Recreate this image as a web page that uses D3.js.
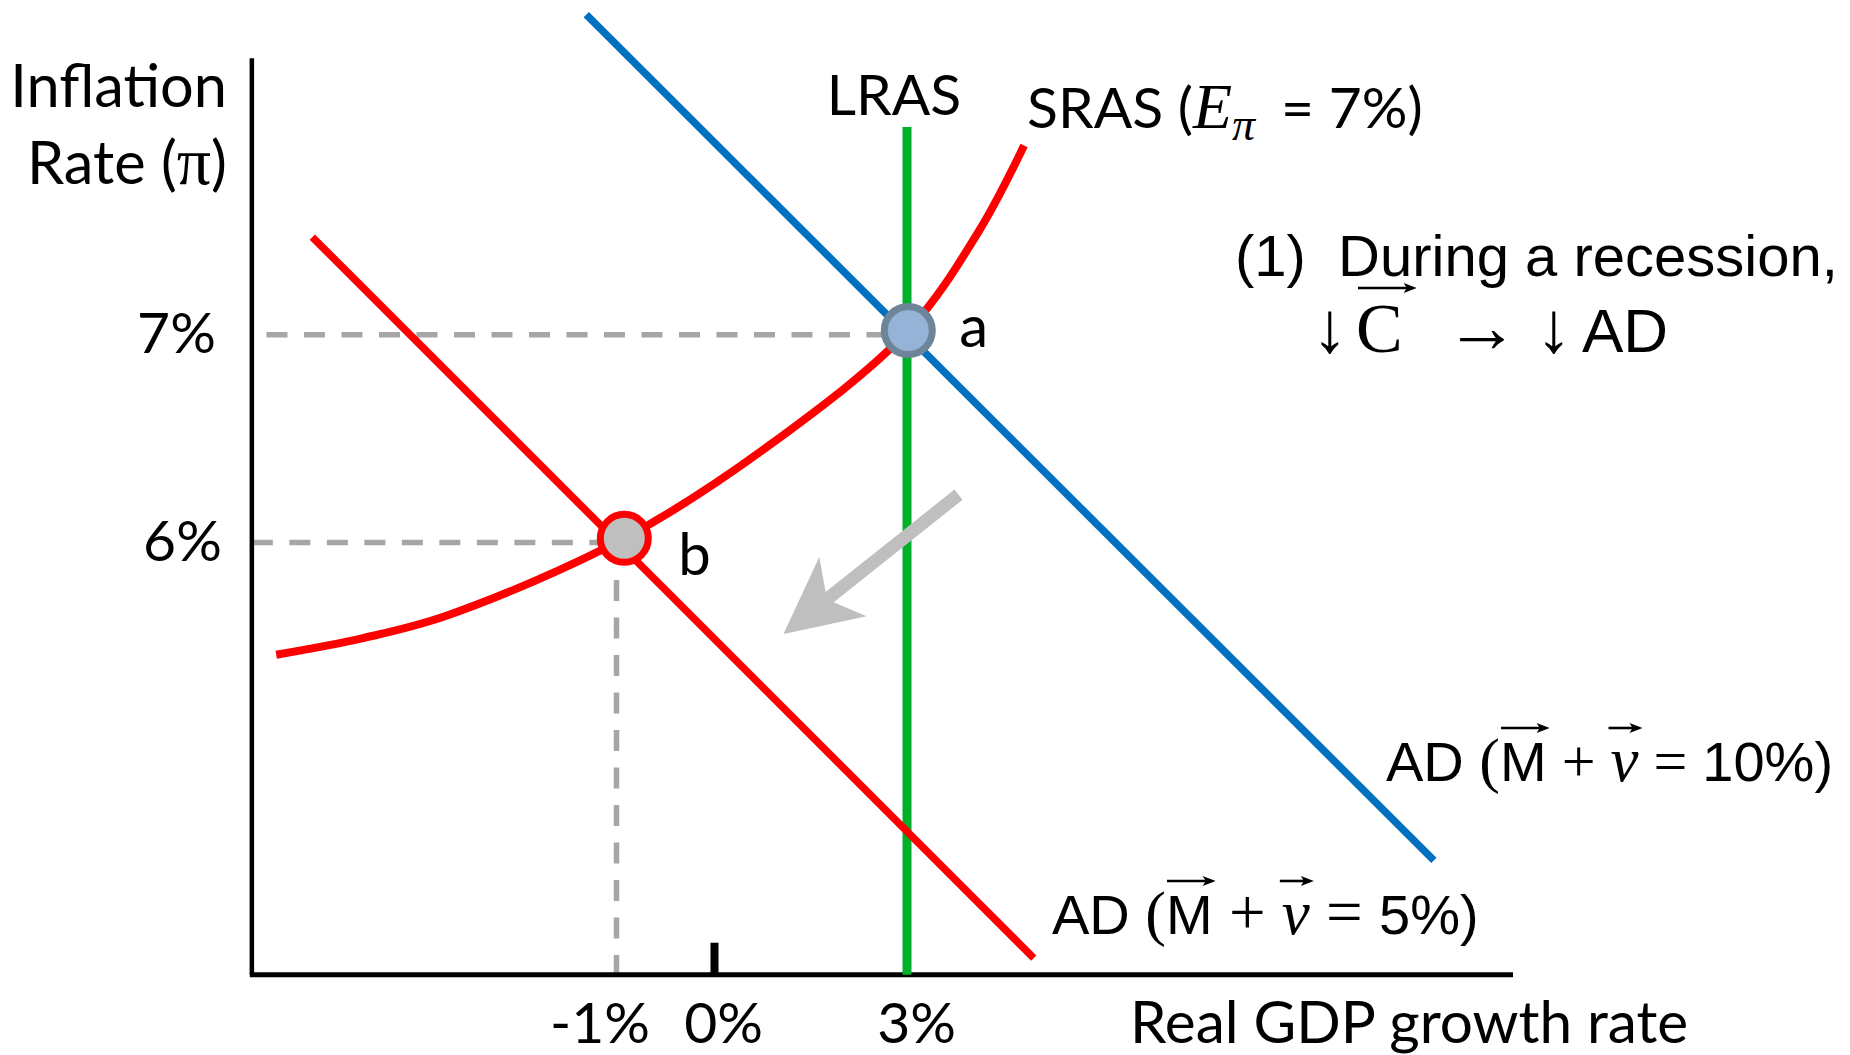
<!DOCTYPE html>
<html><head><meta charset="utf-8">
<script src="https://cdn.jsdelivr.net/npm/d3@7"></script>
<style>
html,body{margin:0;padding:0;background:#fff;}
svg{display:block;}
text{white-space:pre;}
</style></head><body>
<svg id="chart" width="1850" height="1055"></svg>
<script>
// ---------------- data ----------------
const xAnchors = [-1, 0, 3];            // growth values anchoring the schematic x scale
const yAnchors = [6, 7];                // inflation values anchoring the y scale
const xTickValues = [-1, 0, 3];
const xTickLabels = ["-1%", "0%", "3%"];
const yTickValues = [6, 7];
const yTickLabels = ["6%", "7%"];
const axisXExtent = [-4.74, 12.42];
const axisYExtent = [3.92, 8.33];
const lrasX = 3;
const lrasTop = 8.0;
const adHighX = [-1.31, 11.19];
const adHighY = [8.54, 4.47];
const adLowX = [-4.12, 4.97];
const adLowY = [7.47, 4.00];
const srasX = [-4.49, -3.60, -2.73, -0.92, 0.87, 3.02, 4.12, 4.82];
const srasY = [5.46, 5.54, 5.65, 6.02, 6.47, 7.02, 7.50, 7.91];
const pointNames = ["a", "b"];
const pointX = [3.02, -0.92];
const pointY = [7.02, 6.02];
const guideY = [7, 6];                  // dashed horizontal guides
const guideStartX = [-4.59, -4.74];
const guideEndX = [3.02, -0.92];
const guideVX = -1;                     // dashed vertical guide
const shiftX = [3.80, 1.08];            // gray arrow tail -> tip
const shiftY = [6.23, 5.56];

// ---------------- scales ----------------
const x = d3.scaleLinear().domain(xAnchors).range([616.5, 714, 907]);
const y = d3.scaleLinear().domain(yAnchors).range([542.5, 334.7]);

const svg = d3.select("#chart");
const CAL = "Lato, 'Open Sans', sans-serif";
const ARI = "'Liberation Sans', Arial, sans-serif";
const SER = "'Liberation Serif', 'Times New Roman', serif";
const FS = 58;

// ---------------- guides ----------------
const guides = svg.append("g").attr("stroke", "#a6a6a6").attr("stroke-width", 5.5)
  .attr("stroke-dasharray", "21 16.5").attr("fill", "none");
guideY.forEach((gv, i) => {
  guides.append("line").attr("x1", x(guideStartX[i])).attr("x2", x(guideEndX[i]))
    .attr("y1", y(gv)).attr("y2", y(gv));
});
guides.append("line").attr("x1", x(guideVX)).attr("x2", x(guideVX))
  .attr("y1", y(6)).attr("y2", y(axisYExtent[0]));

// ---------------- axes ----------------
svg.append("line").attr("x1", x(axisXExtent[0]) - 2).attr("x2", x(axisXExtent[1]))
  .attr("y1", y(axisYExtent[0])).attr("y2", y(axisYExtent[0]))
  .attr("stroke", "#000").attr("stroke-width", 5);
svg.append("line").attr("x1", x(axisXExtent[0])).attr("x2", x(axisXExtent[0]))
  .attr("y1", y(axisYExtent[1])).attr("y2", y(axisYExtent[0]))
  .attr("stroke", "#000").attr("stroke-width", 4.5);

const xAxis = d3.axisBottom(x).tickValues(xTickValues)
  .tickFormat((d, i) => xTickLabels[i]).tickSizeInner(-32).tickSizeOuter(0).tickPadding(28);
const gx = svg.append("g").attr("transform", `translate(0,${y(axisYExtent[0])})`).call(xAxis);
gx.select(".domain").remove();
gx.selectAll(".tick line").attr("stroke", "#000").attr("stroke-width", 8)
  .attr("stroke-opacity", d => d === 0 ? 1 : 0);
gx.selectAll(".tick text").attr("font-family", CAL).attr("font-size", 57).attr("fill", "#000")
  .attr("dx", d => d < 0 ? -17 : 9);

const yAxis = d3.axisLeft(y).tickValues(yTickValues)
  .tickFormat((d, i) => yTickLabels[i]).tickSize(0).tickPadding(38);
const gy = svg.append("g").attr("transform", `translate(${x(axisXExtent[0])},0)`).call(yAxis);
gy.select(".domain").remove();
gy.selectAll(".tick text").attr("font-family", CAL).attr("font-size", 57).attr("fill", "#000")
  .attr("dx", d => d === 6 ? 8 : 2);

// ---------------- curves ----------------
const line = d3.line().x(d => x(d[0])).y(d => y(d[1]));
svg.append("path").datum(d3.zip(adHighX, adHighY)).attr("d", line)
  .attr("stroke", "#0070c0").attr("stroke-width", 7.5).attr("fill", "none");
svg.append("path").datum([[lrasX, lrasTop], [lrasX, axisYExtent[0]]]).attr("d", line)
  .attr("stroke", "#00b02a").attr("stroke-width", 9).attr("fill", "none");
svg.append("path").datum(d3.zip(adLowX, adLowY)).attr("d", line)
  .attr("stroke", "#ff0000").attr("stroke-width", 7.5).attr("fill", "none");
svg.append("path").datum(d3.zip(srasX, srasY)).attr("d", line.curve(d3.curveCatmullRom.alpha(0.5)))
  .attr("stroke", "#ff0000").attr("stroke-width", 8).attr("fill", "none");

// ---------------- shift arrow ----------------
(function () {
  const tx = x(shiftX[0]), ty = y(shiftY[0]), hx = x(shiftX[1]), hy = y(shiftY[1]);
  const L = Math.hypot(tx - hx, ty - hy);
  const ax = (tx - hx) / L, ay = (ty - hy) / L, px = -ay, py = ax;
  const P = (a, p) => [hx + ax * a + px * p, hy + ay * a + py * p];
  const pts = [P(0, 0), P(76, 38), P(59, 6.5), P(L, 6.5), P(L, -6.5), P(59, -6.5), P(76, -38)];
  svg.append("path").attr("d", "M" + pts.map(p => p.join(",")).join("L") + "Z").attr("fill", "#bfbfbf");
})();

// ---------------- equilibrium points ----------------
const ptFill = ["#95b3d7", "#bfbfbf"];
const ptStroke = ["#6d8499", "#ff0000"];
pointNames.forEach((n, i) => {
  svg.append("circle").attr("cx", x(pointX[i])).attr("cy", y(pointY[i])).attr("r", 24)
    .attr("fill", ptFill[i]).attr("stroke", ptStroke[i]).attr("stroke-width", 7);
});
svg.append("text").attr("x", x(pointX[0]) + 51).attr("y", y(pointY[0]) + 16)
  .attr("font-family", CAL).attr("font-size", FS).text(pointNames[0]);
svg.append("text").attr("x", x(pointX[1]) + 54).attr("y", y(pointY[1]) + 37)
  .attr("font-family", CAL).attr("font-size", FS).text(pointNames[1]);

// ---------------- labels ----------------
function overArrow(x1, x2, yy) {
  svg.append("line").attr("x1", x1).attr("x2", x2 - 8).attr("y1", yy).attr("y2", yy)
    .attr("stroke", "#000").attr("stroke-width", 2.6);
  svg.append("path").attr("d", `M${x2},${yy}L${x2 - 13},${yy - 5}L${x2 - 10},${yy}L${x2 - 13},${yy + 5}Z`)
    .attr("fill", "#000");
}

// axis titles
svg.append("text").attr("x", 227).attr("y", 107).attr("text-anchor", "end")
  .attr("font-family", CAL).attr("font-size", 59.5).text("Inflation");
const rt = svg.append("text").attr("x", 227).attr("y", 184).attr("text-anchor", "end")
  .attr("font-family", CAL).attr("font-size", 59.5);
rt.append("tspan").text("Rate (");
rt.append("tspan").attr("font-family", SER).attr("font-size", 68).text("π");
rt.append("tspan").text(")");

svg.append("text").attr("x", 1130).attr("y", 1043)
  .attr("font-family", CAL).attr("font-size", 58.5).text("Real GDP growth rate");

svg.append("text").attr("x", x(lrasX) - 13).attr("y", 115).attr("text-anchor", "middle")
  .attr("font-family", CAL).attr("font-size", 57).text("LRAS");

const st = svg.append("text").attr("x", 1027).attr("y", 128).attr("font-family", CAL).attr("font-size", 57);
st.append("tspan").text("SRAS (");
st.append("tspan").attr("font-family", SER).attr("font-style", "italic").attr("font-size", 64).text("E");
st.append("tspan").attr("font-family", SER).attr("font-style", "italic").attr("font-size", 46).attr("dy", 12).text("π");
st.append("tspan").attr("x", 1281).attr("dy", -12).text("= 7%)");

// annotation (1)
svg.append("text").attr("x", 1235).attr("y", 276).attr("font-family", ARI).attr("font-size", 58)
  .text("(1)  During a recession,");
const an = svg.append("text").attr("y", 352).attr("font-family", ARI).attr("font-size", 62);
an.append("tspan").attr("x", 1312).attr("font-family", SER).attr("font-size", 72).text("↓");
const cT = an.append("tspan").attr("x", 1356).attr("font-family", SER).attr("font-size", 70).text("C");
an.append("tspan").attr("x", 1445).attr("font-family", SER).attr("font-size", 74).text("→");
an.append("tspan").attr("x", 1536).attr("font-family", SER).attr("font-size", 72).text("↓");
an.append("tspan").attr("x", 1582).text("AD");
const cb = cT.node().getBBox();
overArrow(cb.x + 2, cb.x + cb.width + 14, 288);

// AD labels
function adLabel(x0, base, value, symSize) {
  const t = svg.append("text").attr("x", x0).attr("y", base).attr("font-family", ARI).attr("font-size", 56);
  t.append("tspan").text("AD ");
  t.append("tspan").attr("font-family", SER).attr("font-size", 62).text("(");
  const m = t.append("tspan").text("M");
  t.append("tspan").attr("font-family", SER).attr("font-size", symSize).text(" + ");
  const v = t.append("tspan").attr("font-family", SER).attr("font-style", "italic").attr("font-size", 63).text("v");
  t.append("tspan").attr("font-family", SER).attr("font-size", symSize).text(" = ");
  t.append("tspan").text(value + ")");
  const mb = m.node().getBBox(), vb = v.node().getBBox();
  const ay = base - 53;
  overArrow(mb.x + 1, mb.x + mb.width + 3, ay);
  overArrow(vb.x - 2, vb.x + vb.width + 4, ay);
}
adLabel(1386, 781, "10%", 60);
adLabel(1052, 934, "5%", 65);
</script>
</body></html>
